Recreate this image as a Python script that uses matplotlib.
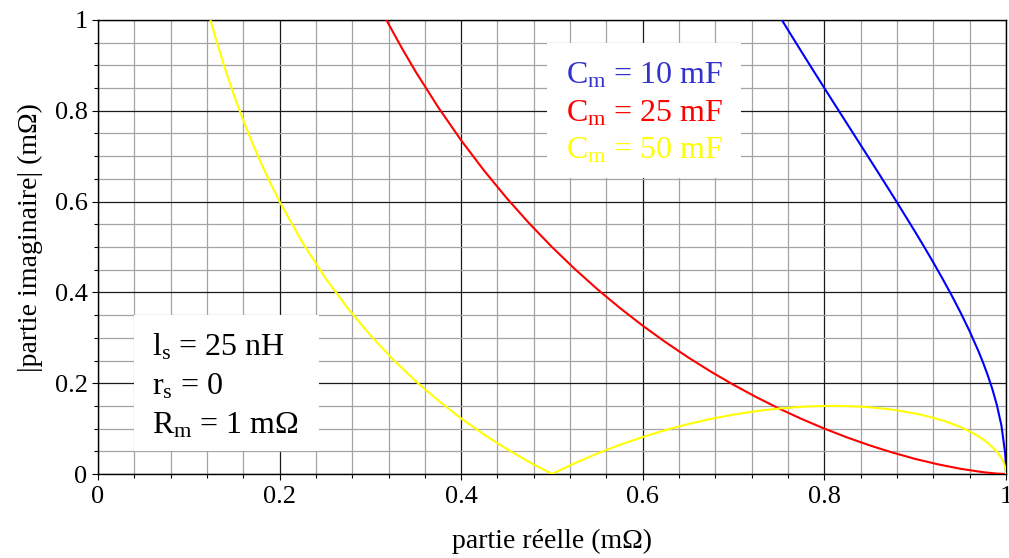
import matplotlib
matplotlib.use("Agg")
import matplotlib.pyplot as plt
from matplotlib.patches import Rectangle
from matplotlib.ticker import MultipleLocator, FormatStrFormatter

plt.rcParams['font.family'] = ['Liberation Serif', 'DejaVu Serif']
plt.rcParams['mathtext.fontset'] = 'custom'
plt.rcParams['mathtext.rm'] = 'Liberation Serif'
plt.rcParams['mathtext.it'] = 'Liberation Serif:italic'

# Cm = 10 mF (blue)
blue_re = [1.0, 0.9995, 0.999, 0.995, 0.99, 0.985, 0.98, 0.975, 0.97, 0.96, 0.95, 0.94, 0.93, 0.92, 0.91,
           0.90, 0.88, 0.87, 0.86, 0.85, 0.84, 0.83, 0.82, 0.81, 0.80, 0.79, 0.78, 0.77, 0.76, 0.753]
blue_im = [0.0, 0.0336, 0.0475, 0.1067, 0.1518, 0.1870, 0.2171, 0.2442, 0.2691, 0.3144, 0.3556, 0.3941, 0.4307, 0.4659, 0.5000,
           0.5333, 0.5982, 0.6301, 0.6617, 0.6931, 0.7245, 0.7558, 0.7871, 0.8185, 0.85, 0.8816, 0.9135, 0.9455, 0.9778, 1.0006]

# Cm = 25 mF (red)
red_re = [1.0, 0.99, 0.975, 0.95, 0.925, 0.90, 0.875, 0.85, 0.825, 0.80, 0.775, 0.75, 0.725, 0.70, 0.675, 0.65,
          0.625, 0.60, 0.575, 0.55, 0.525, 0.50, 0.475, 0.45, 0.425, 0.40, 0.375, 0.35, 0.335, 0.32, 0.318]
red_im = [0.0, 0.0010, 0.0040, 0.0115, 0.0214, 0.0333, 0.0473, 0.0630, 0.0806, 0.100, 0.1212, 0.1443, 0.1694, 0.1964, 0.2255, 0.2568,
          0.2905, 0.3266, 0.3654, 0.4070, 0.4518, 0.50, 0.5519, 0.6080, 0.6688, 0.7348, 0.8069, 0.8857, 0.9369, 0.9913, 0.9988]

# Cm = 50 mF (yellow)
yel_re = [1.0, 0.9995, 0.999, 0.998, 0.995, 0.99, 0.98, 0.97, 0.96, 0.95, 0.94, 0.93, 0.92, 0.91, 0.90, 0.88, 0.87,
          0.85, 0.84, 0.82, 0.80, 0.78, 0.75, 0.725, 0.70, 0.675, 0.65, 0.625, 0.60, 0.575, 0.55, 0.525, 0.50,
          0.475, 0.45, 0.425, 0.40, 0.375, 0.35, 0.325, 0.30, 0.275, 0.25, 0.225, 0.20, 0.19, 0.18, 0.17, 0.16,
          0.15, 0.14, 0.13, 0.125, 0.123]
yel_im = [0.0, 0.0112, 0.0158, 0.0223, 0.0351, 0.0492, 0.0686, 0.0827, 0.0939, 0.1032, 0.1112, 0.1180, 0.1238, 0.1289, 0.1333, 0.1403, 0.1430,
          0.1470, 0.1484, 0.1499, 0.150, 0.1487, 0.1443, 0.1386, 0.1309, 0.1214, 0.1101, 0.0968, 0.0816, 0.0645, 0.0452, 0.0238, 0.0,
          0.0263, 0.0553, 0.0872, 0.1225, 0.1614, 0.2044, 0.2522, 0.3055, 0.3653, 0.4330, 0.5104, 0.60, 0.6401, 0.6830, 0.7292, 0.7790,
          0.8332, 0.8923, 0.9572, 0.9922, 1.0067]

legend_labels = [r'C$_{\mathrm{m}}$ = 10 mF', r'C$_{\mathrm{m}}$ = 25 mF', r'C$_{\mathrm{m}}$ = 50 mF']
legend_colors = ['#3333cc', '#ff0000', '#ffff00']
param_labels = [r'l$_{\mathrm{s}}$ = 25 nH', r'r$_{\mathrm{s}}$ = 0', r'R$_{\mathrm{m}}$ = 1 mΩ']

fig = plt.figure(figsize=(10.09, 5.58), dpi=100)
ax = fig.add_axes([0.0971, 0.1505, 0.8999, 0.8137])

ax.set_xlim(0, 1)
ax.set_ylim(0, 1)
ax.xaxis.set_major_locator(MultipleLocator(0.2))
ax.xaxis.set_minor_locator(MultipleLocator(0.04))
ax.yaxis.set_major_locator(MultipleLocator(0.2))
ax.yaxis.set_minor_locator(MultipleLocator(0.05))
ax.xaxis.set_major_formatter(FormatStrFormatter('%g'))
ax.yaxis.set_major_formatter(FormatStrFormatter('%g'))

ax.grid(which='minor', color='#a4a4a4', linewidth=0.9, zorder=0)
ax.grid(which='major', color='#1a1a1a', linewidth=0.9, zorder=0)
ax.set_axisbelow(True)

ax.tick_params(which='major', direction='out', length=4.5, labelsize=19, width=0.8, pad=3)
ax.tick_params(which='minor', direction='out', length=3, width=0.8)
ax.tick_params(axis='x', which='major', pad=4)
for s in ax.spines.values():
    s.set_linewidth(1.0)

ax.plot(blue_re, blue_im, color='#0000ff', lw=1.5, zorder=3)
ax.plot(red_re, red_im, color='#ff0000', lw=1.5, zorder=3)
ax.plot(yel_re, yel_im, color='#ffff00', lw=1.5, zorder=3)

ax.add_patch(Rectangle((0.494, 0.652), 0.214, 0.297, facecolor='white', edgecolor='none', zorder=2))
ax.add_patch(Rectangle((0.040, 0.051), 0.203, 0.299, facecolor='white', edgecolor='none', zorder=2))

for lab, col, yy in zip(legend_labels, legend_colors, [0.878, 0.794, 0.711]):
    ax.text(0.515, yy, lab, color=col, fontsize=23, va='center', ha='left', zorder=4)

for lab, yy in zip(param_labels, [0.280, 0.193, 0.106]):
    ax.text(0.060, yy, lab, color='black', fontsize=23, va='center', ha='left', zorder=4)

ax.set_xlabel('partie réelle (mΩ)', fontsize=20)
ax.set_ylabel('|partie imaginaire| (mΩ)', fontsize=20)
ax.xaxis.label.set_va('center')
ax.yaxis.label.set_va('center')
ax.xaxis.set_label_coords(0.5, -0.148)
ax.yaxis.set_label_coords(-0.074, 0.52)

fig.savefig('out.png', dpi=100)
